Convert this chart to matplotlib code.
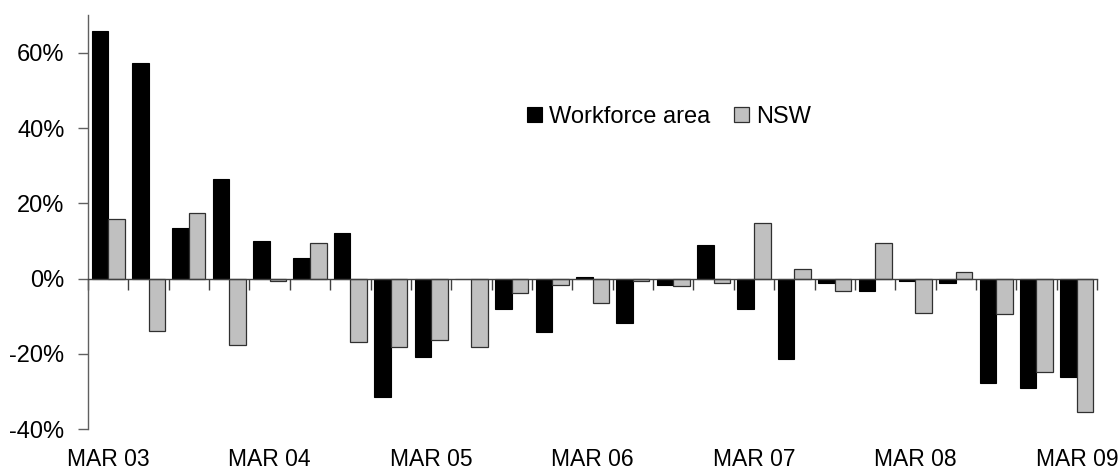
import matplotlib
matplotlib.use("Agg")
import matplotlib.pyplot as plt
import numpy as np

plt.rcParams['font.family'] = ['Liberation Sans', 'DejaVu Sans']

quarters = ["MAR 03", "JUN 03", "SEP 03", "DEC 03",
            "MAR 04", "JUN 04", "SEP 04", "DEC 04",
            "MAR 05", "JUN 05", "SEP 05", "DEC 05",
            "MAR 06", "JUN 06", "SEP 06", "DEC 06",
            "MAR 07", "JUN 07", "SEP 07", "DEC 07",
            "MAR 08", "JUN 08", "SEP 08", "DEC 08",
            "MAR 09"]
workforce = [65.7, 57.3, 13.3, 26.5, 10.1, 5.4, 12.2, -31.4, -20.8, 0.0,
             -8.1, -14.3, 0.5, -11.8, -1.7, 9.0, -8.1, -21.4, -1.2, -3.3,
             -0.6, -1.2, -27.7, -29.2, -26.1]
nsw = [15.8, -13.9, 17.5, -17.6, -0.6, 9.4, -17.0, -18.1, -16.4, -18.1,
       -3.8, -1.7, -6.5, -0.6, -2.1, -1.2, 14.7, 2.65, -3.3, 9.4,
       -9.1, 1.6, -9.5, -24.9, -35.5]
label_every = 4
yticks = [-40, -20, 0, 20, 40, 60]

fig = plt.figure(figsize=(11.2, 4.73), dpi=100)
ax = fig.add_axes([0.0786, 0.093, 0.9009, 0.875])

x = np.arange(len(quarters))
w = 0.41
ax.bar(x - w / 2, workforce, w, color='black', edgecolor='black', linewidth=0.8,
       label='Workforce area', zorder=2)
ax.bar(x + w / 2, nsw, w, color='#c0c0c0', edgecolor='#303030', linewidth=0.9,
       label='NSW', zorder=2)

ax.set_xlim(-0.5, len(quarters) - 0.5)
ax.set_ylim(-40, 70)

for s in ['top', 'right']:
    ax.spines[s].set_visible(False)
ax.spines['bottom'].set_position(('data', 0))
ax.spines['bottom'].set_color('#404040')
ax.spines['bottom'].set_linewidth(1.0)
ax.spines['bottom'].set_zorder(3)
ax.spines['left'].set_color('#606060')
ax.spines['left'].set_linewidth(1.0)

ax.set_yticks(yticks)
ax.set_yticklabels([f"{v}%" for v in yticks])
ax.tick_params(axis='y', direction='out', length=7, width=1, color='#606060',
               labelsize=17, pad=10)

ax.set_xticks(np.arange(-0.5, len(quarters), 1.0))
ax.set_xticklabels([])
ax.tick_params(axis='x', direction='out', length=8, width=1, color='#404040')

sec = ax.secondary_xaxis('bottom')
sec.set_xticks(x[::label_every])
sec.set_xticklabels(quarters[::label_every])
sec.tick_params(length=0, labelsize=16.5, pad=14)
sec.spines['bottom'].set_visible(False)

ax.legend(loc='center left', bbox_to_anchor=(0.435, 0.754), ncol=2, frameon=False,
          fontsize=17, handlelength=0.64, handleheight=0.58, handletextpad=0.3,
          columnspacing=1.0, borderpad=0, borderaxespad=0)

fig.savefig('out.png', dpi=100)
